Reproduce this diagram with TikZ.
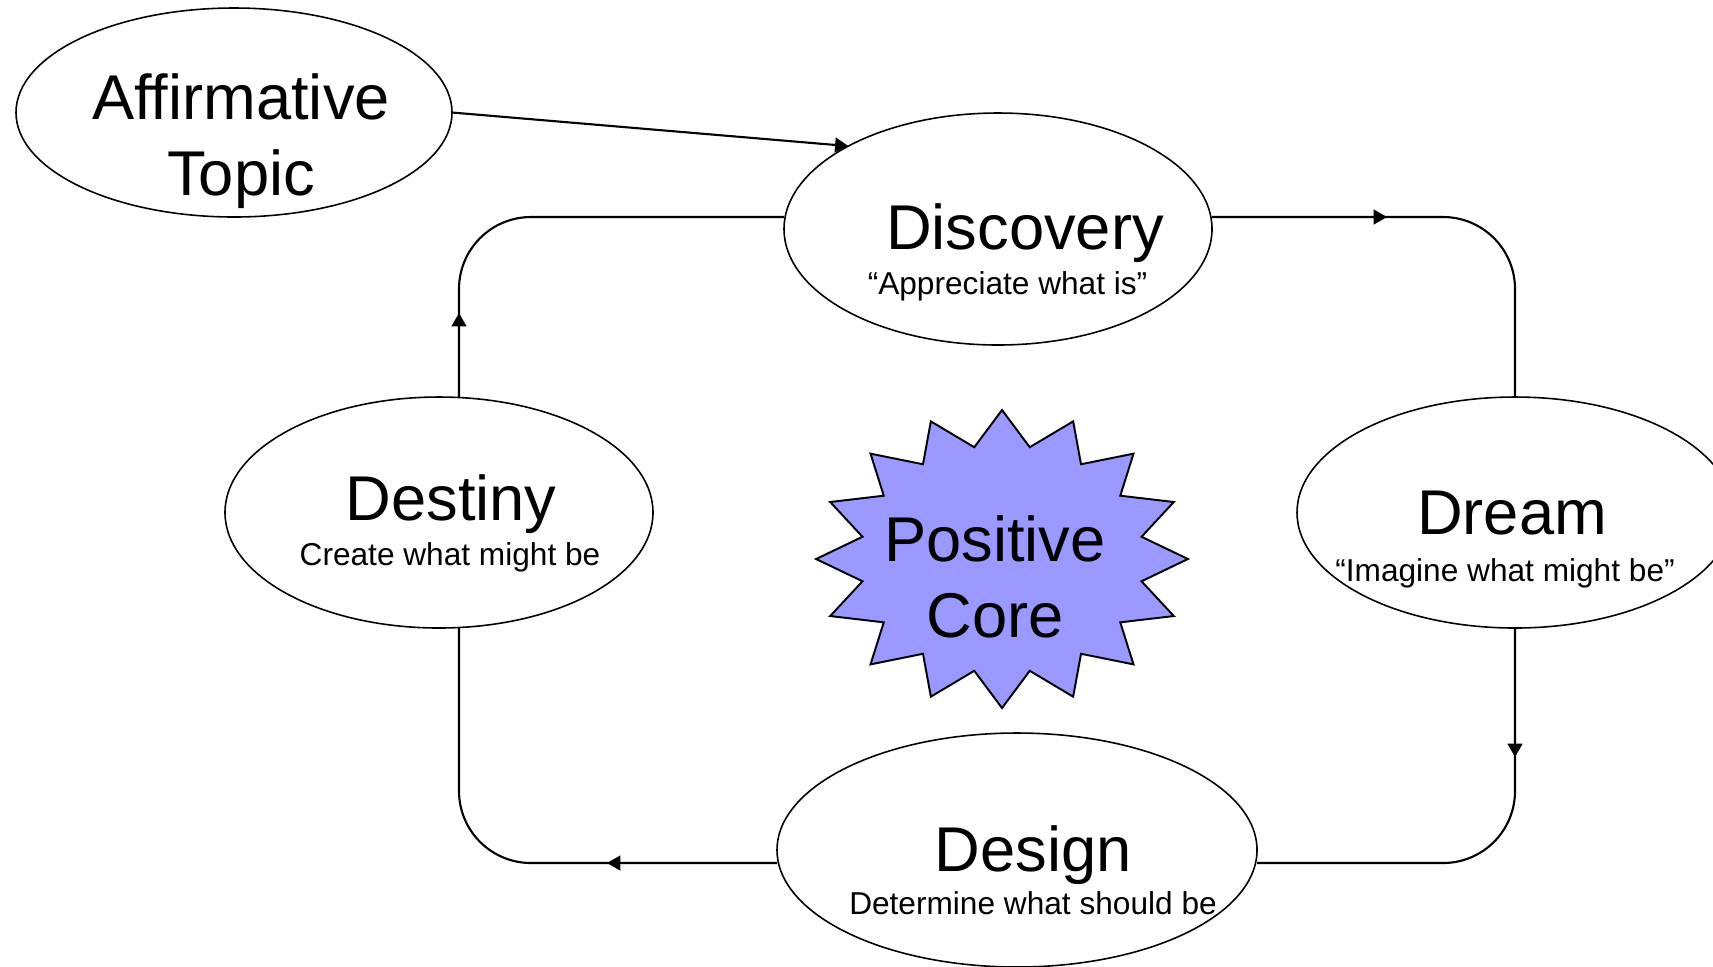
\documentclass[tikz,border=0pt]{standalone}
\usepackage{fontspec}
\setmainfont{Liberation Sans}
\usepackage{tikz}
\usetikzlibrary{shapes.geometric,arrows.meta,decorations.markings}
\definecolor{corefill}{RGB}{153,153,255}
\tikzstyle{phase} = [ellipse, draw, line width=0.45pt, inner sep=0pt, outer sep=0pt]
\tikzstyle{title} = [anchor=base, align=center, inner sep=0pt, font=\fontsize{18}{21.5}\selectfont]
\tikzstyle{motto} = [anchor=base, inner sep=0pt, font=\fontsize{9}{11}\selectfont]
\tikzstyle{arrow} = [line width=0.6pt, -{Triangle[length=3.8pt,width=4.2pt]}]
\tikzset{ring/.style={line width=0.6pt, rounded corners=0.72cm,
  decoration={markings, mark=at position #1 with {\arrow{Triangle[length=3.8pt,width=4.2pt]}}},
  postaction={decorate}}}

\begin{document}
\begin{tikzpicture}
\useasboundingbox (0,0) rectangle (17.13,-9.66);
% Phases
\node (aff) [phase, minimum width=4.36cm, minimum height=2.09cm] at (2.34,-1.125) {};
\node (disc) [phase, minimum width=4.28cm, minimum height=2.32cm] at (9.98,-2.29) {};
\node (dream) [phase, minimum width=4.36cm, minimum height=2.31cm] at (15.15,-5.125) {};
\node (design) [phase, minimum width=4.80cm, minimum height=2.34cm] at (10.17,-8.50) {};
\node (destiny) [phase, minimum width=4.28cm, minimum height=2.31cm] at (4.39,-5.125) {};

\node (afftext) [title] at ([xshift=0.07cm,yshift=-0.83cm]aff.center) {Affirmative\\Topic};
\node (disctitle) [title] at ([xshift=0.27cm,yshift=-0.20cm]disc.center) {Discovery};
\node (discmotto) [motto] at ([xshift=0.095cm,yshift=-0.655cm]disc.center) {“Appreciate what is”};
\node (dreamtitle) [title] at ([xshift=-0.03cm,yshift=-0.215cm]dream.center) {Dream};
\node (dreammotto) [motto] at ([xshift=-0.10cm,yshift=-0.685cm]dream.center) {“Imagine what might be”};
\node (designtitle) [title] at ([xshift=0.16cm,yshift=-0.21cm]design.center) {Design};
\node (designmotto) [motto] at ([xshift=0.16cm,yshift=-0.645cm]design.center) {Determine what should be};
\node (destinytitle) [title] at ([xshift=0.12cm,yshift=-0.075cm]destiny.center) {Destiny};
\node (destinymotto) [motto] at ([xshift=0.11cm,yshift=-0.525cm]destiny.center) {Create what might be};

% Positive core
\coordinate (corec) at (10.02,-5.59);
\draw[line width=0.55pt, fill=corefill, shift={(corec)}, xscale=1.248]
  plot[samples at={0,...,31}, variable=\k] ({90+\k*11.25}:{1.49*(1-0.235*mod(\k,2))}) -- cycle;
\node (core) [title] at ([xshift=-0.07cm,yshift=-0.78cm]corec) {Positive\\Core};

% Cycle
\coordinate (tr) at (15.15,-2.17);
\coordinate (br) at (15.15,-8.63);
\coordinate (bl) at (4.59,-8.63);
\coordinate (tl) at (4.59,-2.17);

\draw[arrow] (aff.east) -- (disc.151);
\draw[ring=1.75cm] (disc.east |- tr) -- (tr) -- (dream.north);
\draw[ring=1.29cm] (dream.south) -- (br) -- (design.east |- br);
\draw[ring=1.70cm] (design.west |- bl) -- (bl) -- (bl |- destiny.south);
\draw[ring=0.84cm] (tl |- destiny.north) -- (tl) -- (disc.west |- tl);
\end{tikzpicture}
\end{document}
